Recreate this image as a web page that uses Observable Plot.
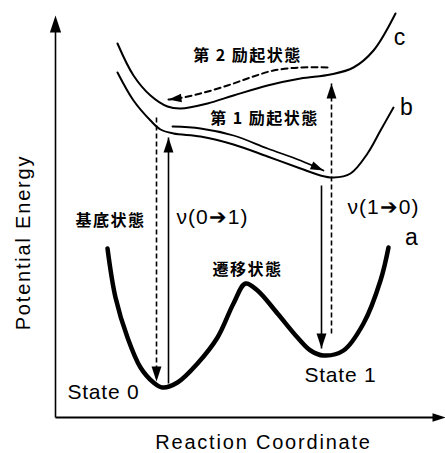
<!DOCTYPE html>
<html><head><meta charset="utf-8">
<script src="https://cdn.jsdelivr.net/npm/d3@7"></script>
<script src="https://cdn.jsdelivr.net/npm/@observablehq/plot@0.6"></script>
<style>
html,body{margin:0;padding:0;background:#fff;}
</style></head><body><div id="chart"></div>
<script>
// Ground-state curve a (reaction coordinate, energy)
const aX = [107,115,127,140,153,162,177,197,217,233,245,257,277,297,310,323,343,363,380,388];
const aE = [205,156,116,86,71,66,71,90,116,150,170,163,140,116,103,98,103,130,173,206];
// First excited state curve b
const bX = [117,133,150,160,173,200,233,267,300,320,333,350,367,380,393];
const bE = [381,353,333,324,320,317,309,297,285,278,276,280,300,323,346];
// Second excited state curve c
const cX = [117,133,150,167,180,207,233,267,300,330,353,373,395];
const cE = [410,378,358,347,345,350,358,368,375,379,386,403,440];
// Dashed relaxation path along c (right to left)
const dcX = [327,300,273,250,227,200,177,168];
const dcE = [386,386,383,376,368,360,355,354];
// Solid path along b (left to right)
const sbX = [172,200,233,267,300,323];
const sbE = [327,325,318,305,293,283];
// Vertical transition arrows
const vX = [156,168,331,321];
const vFrom = [336,70,120,268];
const vTo = [72,316,370,105];
const vDashed = [true,false,true,false];
// Axes
const axisX0 = 55, axisE0 = 36, axisXEnd = 445, axisETop = 438;
// Labels
const curveLabels = ["a","b","c"];
const curveLabelX = [411,406,399];
const curveLabelE = [216,346,416];
const jpLabels = ["第 2 励起状態","第 1 励起状態","基底状態","遷移状態"];
const jpX = [247,264,110,247];
const jpE = [398,335,233,184];
const nuLabels = ["ν(0➔1)","ν(1➔0)"];
const nuX = [212,383];
const nuE = [236,246];
const stateLabels = ["State 0","State 1"];
const stateX = [103,340];
const stateE = [61,78];
const xTitle = "Reaction Coordinate";
const yTitle = "Potential Energy";

const pts = (xs, es) => xs.map((x, i) => ({x, e: es[i]}));
const curveA = pts(aX, aE), curveB = pts(bX, bE), curveC = pts(cX, cE);
const pathDC = pts(dcX, dcE), pathSB = pts(sbX, sbE);
const verts = vX.map((x, i) => ({x, e1: vFrom[i], e2: vTo[i], dashed: vDashed[i]}));
const angle = (dx, de) => Math.atan2(dx, de) * 180 / Math.PI;
const heads = [
  ...verts.map(v => ({x: v.x, e: v.e2, a: v.e2 > v.e1 ? 0 : 180, r: 15})),
  ...[pathDC, pathSB].map(p => { const n = p.length; return {x: p[n-1].x, e: p[n-1].e, a: angle(p[n-1].x - p[n-2].x, p[n-1].e - p[n-2].e), r: 13}; }),
  {x: axisX0, e: axisETop, a: 0, r: 17},
  {x: axisXEnd, e: axisE0, a: 90, r: 13}
];
const arrowHead = {draw(ctx, size) { const r = Math.sqrt(size / Math.PI), w = r * 0.33; ctx.moveTo(0, 0); ctx.lineTo(w, r); ctx.lineTo(-w, r); ctx.closePath(); }};
const lab = (t, xs, es) => t.map((s, i) => ({s, x: xs[i], e: es[i]}));
const latin = "Liberation Sans, Arial, Helvetica, sans-serif";

const chart = Plot.plot({
  width: 445, height: 453, margin: 0,
  x: {domain: [0, 445], axis: null},
  y: {domain: [0, 453], axis: null},
  r: {type: "identity"},
  style: {background: "white", fontFamily: latin},
  marks: [
    Plot.link([0], {x1: axisX0, y1: axisE0, x2: axisX0, y2: axisETop - 10, stroke: "black", strokeWidth: 1.6}),
    Plot.link([0], {x1: axisX0, y1: axisE0, x2: axisXEnd - 8, y2: axisE0, stroke: "black", strokeWidth: 1.8}),
    Plot.line(curveC, {x: "x", y: "e", curve: "catmull-rom", stroke: "black", strokeWidth: 2}),
    Plot.line(curveB, {x: "x", y: "e", curve: "catmull-rom", stroke: "black", strokeWidth: 2}),
    Plot.line(curveA, {x: "x", y: "e", curve: "catmull-rom", stroke: "black", strokeWidth: 4.5}),
    Plot.line(pathDC, {x: "x", y: "e", curve: "catmull-rom", stroke: "black", strokeWidth: 2, strokeDasharray: "6,4"}),
    Plot.line(pathSB, {x: "x", y: "e", curve: "catmull-rom", stroke: "black", strokeWidth: 1.8}),
    Plot.link(verts.filter(d => d.dashed), {x1: "x", y1: "e1", x2: "x", y2: "e2", stroke: "black", strokeWidth: 1.6, strokeDasharray: "5,3"}),
    Plot.link(verts.filter(d => !d.dashed), {x1: "x", y1: "e1", x2: "x", y2: "e2", stroke: "black", strokeWidth: 1.6}),
    Plot.dot(heads, {x: "x", y: "e", r: "r", rotate: "a", symbol: arrowHead, fill: "black", stroke: "none"}),
    Plot.text(lab(curveLabels, curveLabelX, curveLabelE), {x: "x", y: "e", text: "s", fontSize: 23, fill: "black"}),
    Plot.text(lab(jpLabels, jpX, jpE), {x: "x", y: "e", text: "s", fontSize: 16, fontWeight: 700, fontFamily: "Noto Sans CJK JP", fill: "black"}),
    Plot.text(lab(nuLabels, nuX, nuE), {x: "x", y: "e", text: "s", fontSize: 21, fill: "black"}),
    Plot.text(lab(stateLabels, stateX, stateE), {x: "x", y: "e", text: "s", fontSize: 21, fill: "black"}),
    Plot.text([xTitle], {x: 263, y: 11, text: d => d, fontSize: 20, fill: "black"}),
    Plot.text([yTitle], {x: 23, y: 211, text: d => d, fontSize: 20, rotate: -90, fill: "black"})
  ]
});
// letter spacing to match the reference's wide lettering
const spacingFor = s => [xTitle, yTitle].includes(s) ? 1.8 : stateLabels.includes(s) ? 0.8 : nuLabels.includes(s) ? 1 : jpLabels.includes(s) ? 1.5 : 0;
chart.querySelectorAll("text").forEach(t => { const sp = spacingFor(t.textContent); if (sp) t.setAttribute("letter-spacing", sp); });
document.getElementById("chart").append(chart);
</script></body></html>
